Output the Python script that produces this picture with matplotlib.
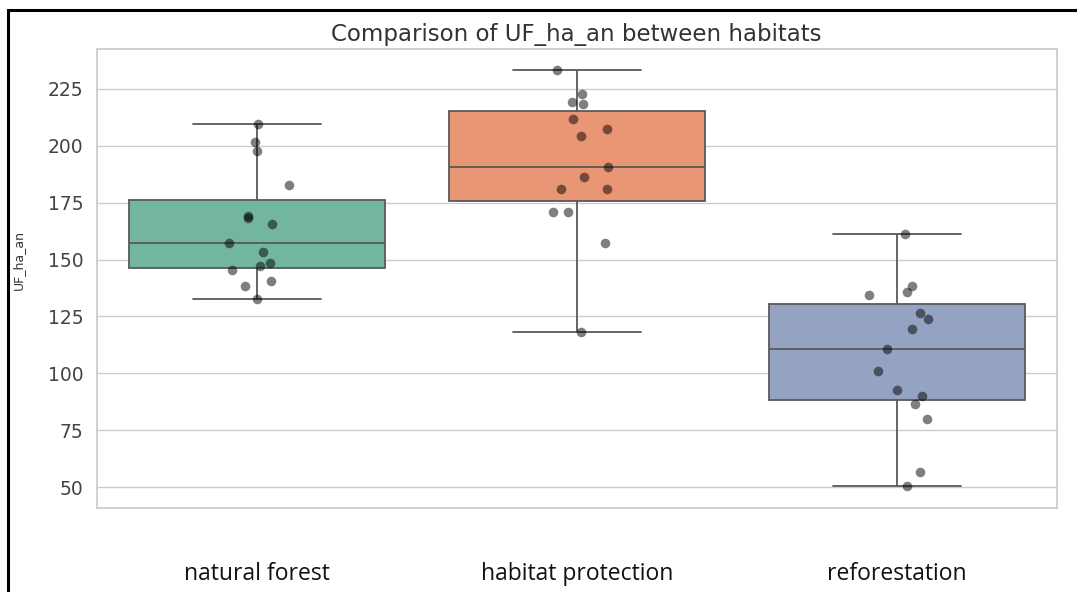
import matplotlib
matplotlib.use("Agg")
import matplotlib.pyplot as plt
import seaborn as sns
import pandas as pd
from matplotlib.patches import Rectangle

habitats = ["natural forest", "habitat protection", "reforestation"]

natural_forest = [209.5, 201.8, 197.8, 182.9, 169.3, 168.1, 165.7, 157.3,
                  153.2, 148.4, 147.1, 145.5, 140.5, 138.3, 132.8]
habitat_protection = [233.2, 222.9, 219.3, 218.6, 211.8, 207.3, 204.2, 190.9,
                      186.1, 181.0, 181.0, 170.7, 170.7, 157.3, 118.1]
reforestation = [161.3, 138.2, 135.7, 134.2, 126.5, 124.0, 119.6, 110.5,
                 101.0, 92.5, 90.0, 86.7, 80.1, 56.4, 50.4]

# horizontal spread of the strip points around each box centre
jitter = [
    [0.003, -0.006, 0.0, 0.10, -0.028, -0.028, 0.047, -0.088,
     0.019, 0.041, 0.009, -0.078, 0.044, -0.037, 0.0],
    [-0.061, 0.017, -0.014, 0.02, -0.011, 0.095, 0.014, 0.098,
     0.023, -0.048, 0.095, -0.073, -0.026, 0.089, 0.014],
    [0.025, 0.047, 0.031, -0.087, 0.072, 0.098, 0.047, -0.031,
     -0.059, 0.0, 0.078, 0.059, 0.094, 0.072, 0.034],
]

values = [natural_forest, habitat_protection, reforestation]
df = pd.DataFrame({
    "habitat": [h for h, v in zip(habitats, values) for _ in v],
    "UF_ha_an": [x for v in values for x in v],
})

sns.set_theme(style="whitegrid")
fig = plt.figure(figsize=(10.77, 5.92), dpi=100)
ax = fig.add_axes([0.090, 0.142, 0.891, 0.775])

sns.boxplot(data=df, x="habitat", y="UF_ha_an", hue="habitat",
            palette="Set2", order=habitats, showfliers=False, ax=ax,
            linewidth=1.3)

for i, (v, j) in enumerate(zip(values, jitter)):
    ax.scatter([i + d for d in j], v, s=48, color="black", alpha=0.5,
               linewidths=0, zorder=5)

ax.set_xlim(-0.5, 2.5)
ax.set_ylim(40.8, 242.5)
ax.set_yticks([50, 75, 100, 125, 150, 175, 200, 225])
ax.set_title("Comparison of UF_ha_an between habitats", fontsize=16.5,
             color="#333333", pad=6)
ax.set_xlabel("")
ax.set_ylabel("UF_ha_an", fontsize=9, color="#333333")
ax.yaxis.set_label_coords(-0.075, 0.54)
ax.tick_params(axis="y", labelsize=13.5, labelcolor="#444444")
ax.tick_params(axis="x", pad=33, labelsize=16.5, labelcolor="#111111")
for lbl in ax.get_xticklabels():
    lbl.set_family("Open Sans")

# outer frame
fig.patches.append(Rectangle((8 / 1077, -0.1), 1.2, (582 / 592) + 0.1,
                             transform=fig.transFigure, fill=False,
                             edgecolor="black", linewidth=2.2))

fig.savefig("out.png", dpi=100)
